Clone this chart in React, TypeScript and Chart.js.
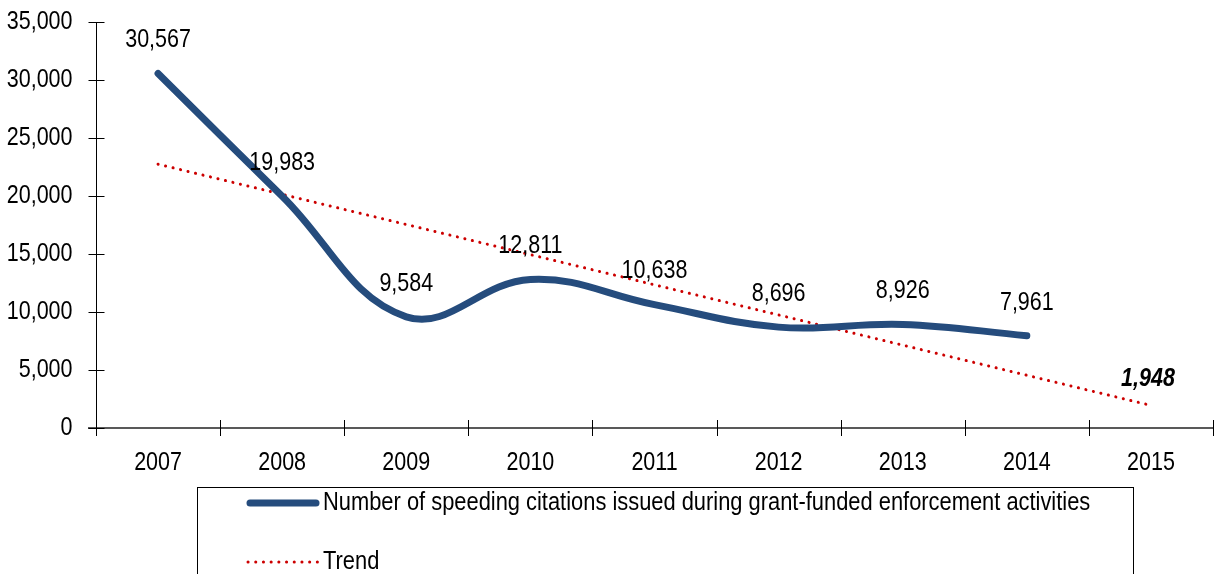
import React, { useEffect, useRef } from "react";
import { Chart, registerables } from "chart.js";

Chart.register(...registerables);

const categories = ["2007", "2008", "2009", "2010", "2011", "2012", "2013", "2014", "2015"];
const citations = [30567, 19983, 9584, 12811, 10638, 8696, 8926, 7961, null];
const trend = [22744, 20144, 17545, 14945, 12345, 9746, 7146, 4547, 1948];
const seriesNames = [
  "Number of speeding citations issued during grant-funded enforcement activities",
  "Trend",
];
const yMin = 0;
const yMax = 35000;
const yStep = 5000;
const trendLabelIndex = 8;

const FONT = "'Liberation Sans', Arial, sans-serif";
const FS = 25;
const NARROW = 0.86;
const LEGEND_NARROW = 0.875;
const BLUE = "#254C7D";
const RED = "#CC0000";
const fmt = (v: number) => v.toLocaleString("en-US");

function narrowText(ctx: any, text: string, x: number, y: number, align: string, font: string, sx = NARROW) {
  ctx.save();
  ctx.translate(x, y);
  ctx.scale(sx, 1);
  ctx.font = font;
  ctx.textAlign = align;
  ctx.textBaseline = "middle";
  ctx.fillStyle = "#000";
  ctx.fillText(text, 0, 0);
  ctx.restore();
}

const axisPlugin = {
  id: "axisTicks",
  afterDraw(chart: any) {
    const ctx = chart.ctx;
    const x = chart.scales.x;
    const y = chart.scales.y;
    ctx.save();
    ctx.strokeStyle = "#595959";
    ctx.lineWidth = 2;
    ctx.beginPath();
    ctx.moveTo(y.right - 8, x.top);
    ctx.lineTo(x.right, x.top);
    ctx.stroke();
    ctx.strokeStyle = "#000";
    ctx.lineWidth = 1;
    const n = categories.length;
    for (let i = 0; i <= n; i++) {
      const px = Math.min(Math.round(x.left + (i * (x.right - x.left)) / n), chart.width - 1) + 0.5;
      ctx.beginPath();
      ctx.moveTo(px, x.top - 8);
      ctx.lineTo(px, x.top + 8);
      ctx.stroke();
    }
    const ax = Math.round(y.right) + 0.5;
    ctx.beginPath();
    ctx.moveTo(ax, y.top);
    ctx.lineTo(ax, y.bottom + 8);
    ctx.stroke();
    y.ticks.forEach((t: any) => {
      const py = Math.round(y.getPixelForValue(t.value)) + 0.5;
      ctx.beginPath();
      ctx.moveTo(ax - 8, py);
      ctx.lineTo(ax + 8, py);
      ctx.stroke();
      narrowText(ctx, fmt(t.value), ax - 24, py, "right", `${FS}px ${FONT}`);
    });
    x.ticks.forEach((t: any, i: number) => {
      const px = x.getPixelForTick(i);
      narrowText(ctx, String(chart.data.labels[t.value]), px, x.top + 35, "center", `${FS}px ${FONT}`);
    });
    ctx.restore();
  },
};

const labelsPlugin = {
  id: "dataLabels",
  afterDatasetsDraw(chart: any) {
    const ctx = chart.ctx;
    const meta0 = chart.getDatasetMeta(0);
    meta0.data.forEach((pt: any, i: number) => {
      const v = citations[i];
      if (v == null) return;
      narrowText(ctx, fmt(v), pt.x, pt.y - 33, "center", `${FS}px ${FONT}`);
    });
    const meta1 = chart.getDatasetMeta(1);
    const tp = meta1.data[trendLabelIndex];
    narrowText(ctx, fmt(trend[trendLabelIndex]), tp.x - 3, tp.y - 26, "center", `italic bold ${FS}px ${FONT}`);
  },
};

const legendPlugin = {
  id: "boxLegend",
  afterDraw(chart: any) {
    const ctx = chart.ctx;
    const ds = chart.data.datasets;
    ctx.save();
    ctx.strokeStyle = "#000";
    ctx.lineWidth = 1;
    ctx.strokeRect(197.5, 487.5, 936, 200);
    const rows = [503, 562];
    ds.forEach((d: any, i: number) => {
      const yy = rows[i];
      ctx.beginPath();
      ctx.strokeStyle = d.borderColor;
      ctx.lineWidth = d.borderWidth;
      ctx.lineCap = d.borderCapStyle || "butt";
      ctx.setLineDash(d.borderDash || []);
      ctx.moveTo(i === 0 ? 250 : 248, yy);
      ctx.lineTo(i === 0 ? 316 : 318, yy);
      ctx.stroke();
      ctx.setLineDash([]);
      narrowText(ctx, d.label, 323, yy, "left", `${FS}px ${FONT}`, LEGEND_NARROW);
    });
    ctx.restore();
  },
};

export default function App() {
  const ref = useRef<HTMLCanvasElement>(null);
  useEffect(() => {
    if (!ref.current) return;
    const chart = new Chart(ref.current, {
      type: "line",
      data: {
        labels: categories,
        datasets: [
          {
            label: seriesNames[0],
            data: citations,
            borderColor: BLUE,
            borderWidth: 7,
            borderCapStyle: "round",
            tension: 0.4,
            pointRadius: 0,
            fill: false,
          },
          {
            label: seriesNames[1],
            data: trend,
            borderColor: RED,
            borderWidth: 3,
            borderCapStyle: "round",
            borderDash: [0.1, 7.6],
            tension: 0,
            pointRadius: 0,
            fill: false,
          },
        ],
      },
      options: {
        responsive: false,
        animation: false,
        layout: { padding: { top: 22, right: 1, left: 0, bottom: 0 } },
        plugins: { legend: { display: false }, tooltip: { enabled: false } },
        scales: {
          x: {
            offset: true,
            grid: { display: false, drawTicks: false },
            border: { display: false },
            ticks: { display: false },
            afterFit: (s: any) => {
              s.height = 146;
            },
          },
          y: {
            min: yMin,
            max: yMax,
            grid: { display: false, drawTicks: false },
            border: { display: false },
            ticks: { display: false, stepSize: yStep },
            afterFit: (s: any) => {
              s.width = 96;
            },
          },
        },
      },
      plugins: [axisPlugin, labelsPlugin, legendPlugin],
    });
    return () => chart.destroy();
  }, []);
  return (
    <div style={{ position: "absolute", left: 0, top: 0, width: 1214, height: 574, background: "#fff" }}>
      <canvas ref={ref} width={1214} height={574} />
    </div>
  );
}
